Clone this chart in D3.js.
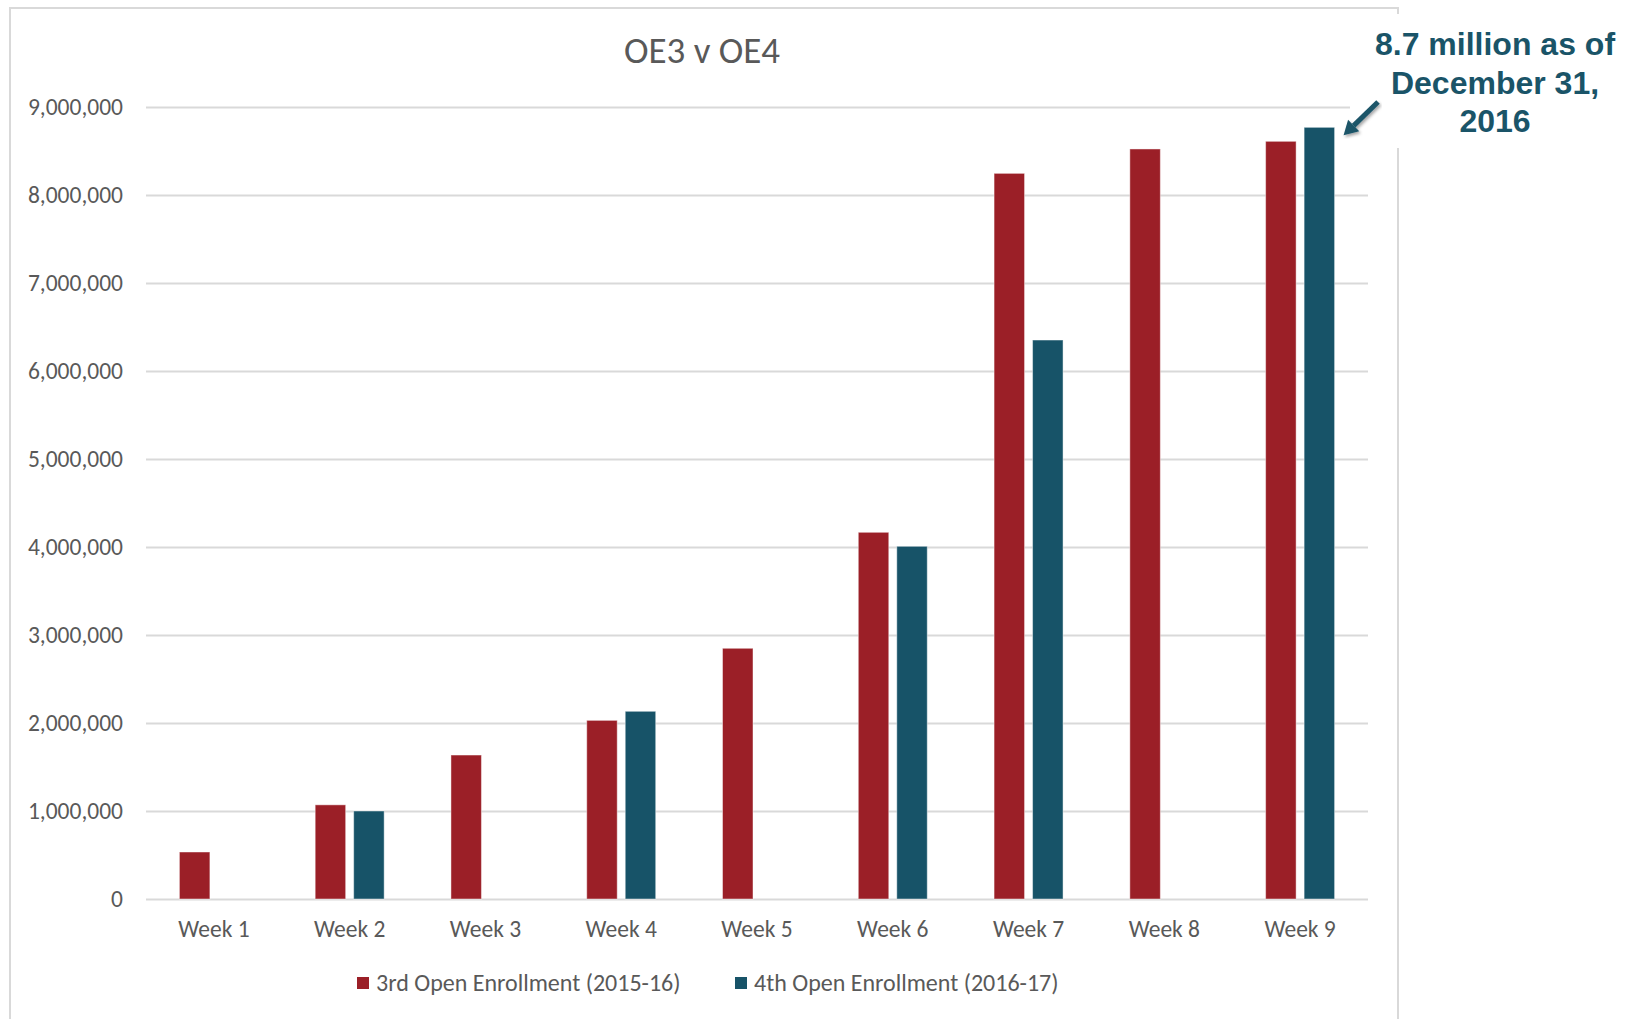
<!doctype html>
<html lang="en">
<head>
<meta charset="utf-8">
<title>OE3 v OE4</title>
<style>
  body { margin: 0; background: #fff; }
  svg text { font-family: Carlito, Calibri, Lato, sans-serif; fill: #595959; }
</style>
</head>
<body>
<div id="chart"></div>
<script src="https://d3js.org/d3.v7.min.js"></script>
<script>
// data
var weeks = ["Week 1", "Week 2", "Week 3", "Week 4", "Week 5", "Week 6", "Week 7", "Week 8", "Week 9"];
var seriesNames = ["3rd Open Enrollment (2015-16)", "4th Open Enrollment (2016-17)"];
var oe3 = [534000, 1070000, 1636000, 2030000, 2849000, 4167000, 8246000, 8523000, 8610000];
var oe4 = [null, 1000000, null, 2133000, null, 4008000, 6352000, null, 8769000];
var yTicks = [0, 1000000, 2000000, 3000000, 4000000, 5000000, 6000000, 7000000, 8000000, 9000000];
var colors = ["#9b1f27", "#175368"];

var width = 1633, height = 1019;
var margin = {top: 107, right: 265, bottom: 120, left: 146};   // plot area 146..1368, 107..899

var svg = d3.select("#chart").append("svg")
    .attr("width", width)
    .attr("height", height);

// chart border
svg.append("rect")
    .attr("x", 10).attr("y", 8)
    .attr("width", 1388).attr("height", 1030)
    .attr("fill", "none")
    .attr("stroke", "#d9d9d9")
    .attr("stroke-width", 2);

var x0 = d3.scaleBand()
    .domain(weeks)
    .range([margin.left, width - margin.right])
    .paddingInner(0.492)
    .paddingOuter(0.246);

var x1 = d3.scaleBand()
    .domain([0, 1])
    .range([0, x0.bandwidth()])
    .paddingInner(0.208);

var y = d3.scaleLinear()
    .domain([0, 9000000])
    .range([height - margin.bottom, margin.top]);

// gridlines
svg.append("g")
    .attr("transform", "translate(" + margin.left + ",0)")
    .call(d3.axisLeft(y).tickValues(yTicks).tickSize(-(width - margin.left - margin.right)).tickFormat(""))
    .call(function(g) { g.select(".domain").remove(); })
    .selectAll("line")
      .attr("stroke", "#d9d9d9")
      .attr("stroke-width", 2);

// y labels
svg.append("g")
    .attr("transform", "translate(" + margin.left + ",0)")
    .call(d3.axisLeft(y).tickValues(yTicks).tickSize(0).tickPadding(23).tickFormat(d3.format(",")))
    .call(function(g) { g.select(".domain").remove(); })
    .selectAll("text")
      .style("font-size", "23.5px")
      .attr("fill", "#595959");

// x labels
svg.append("g")
    .attr("transform", "translate(0," + (height - margin.bottom) + ")")
    .call(d3.axisBottom(x0).tickSize(0).tickPadding(21))
    .call(function(g) { g.select(".domain").remove(); })
    .selectAll("text")
      .style("font-size", "23.5px")
      .attr("fill", "#595959");

// bars
var rows = weeks.map(function(w, i) { return {week: w, vals: [oe3[i], oe4[i]]}; });

svg.append("g")
  .selectAll("g")
  .data(rows)
  .enter()
  .append("g")
    .attr("transform", function(d) { return "translate(" + x0(d.week) + ",0)"; })
  .selectAll("rect")
  .data(function(d) { return d.vals.map(function(v, k) { return {k: k, v: v}; }).filter(function(e) { return e.v != null; }); })
  .enter()
  .append("rect")
    .attr("x", function(d) { return x1(d.k); })
    .attr("y", function(d) { return y(d.v); })
    .attr("width", x1.bandwidth())
    .attr("height", function(d) { return y(0) - y(d.v); })
    .attr("fill", function(d) { return colors[d.k]; })
    .attr("stroke", "rgba(255,255,255,0.45)")
    .attr("stroke-width", 1);

// title
svg.append("text")
    .attr("x", 702)
    .attr("y", 63)
    .attr("text-anchor", "middle")
    .style("font-size", "37px")
    .text("OE3 v OE4");

// legend
var legendX = [357, 735];
var legend = svg.append("g")
  .selectAll("g")
  .data(seriesNames)
  .enter()
  .append("g")
    .attr("transform", function(d, i) { return "translate(" + legendX[i] + ",983)"; });

legend.append("rect")
    .attr("x", 0).attr("y", -6)
    .attr("width", 12).attr("height", 12)
    .attr("fill", function(d, i) { return colors[i]; });

legend.append("text")
    .attr("x", 19)
    .attr("y", 8)
    .style("font-size", "24px")
    .text(function(d) { return d; });

// annotation box covering the corner of the chart
svg.append("rect")
    .attr("x", 1350).attr("y", 14)
    .attr("width", 283).attr("height", 134)
    .attr("fill", "#fff");

var note = ["8.7 million as of", "December 31,", "2016"];
svg.append("g")
  .selectAll("text")
  .data(note)
  .enter()
  .append("text")
    .attr("x", 1495)
    .attr("y", function(d, i) { return 55 + i * 38.5; })
    .attr("text-anchor", "middle")
    .style("font-family", "'Liberation Sans', Arial, sans-serif")
    .style("font-weight", "bold")
    .style("font-size", "32px")
    .style("fill", "#1a5468")
    .text(function(d) { return d; });

// arrow pointing at the week 9 OE4 bar
var tipX = x0("Week 9") + x1(1) + x1.bandwidth() + 9,
    tipY = y(oe4[8]) + 8;
var defs = svg.append("defs");
defs.append("filter").attr("id", "shadow")
  .append("feDropShadow")
    .attr("dx", 1.5).attr("dy", 2).attr("stdDeviation", 1.5)
    .attr("flood-color", "#000").attr("flood-opacity", 0.35);

var ang = Math.atan2(tipY - 102, tipX - 1378);
var headLen = 14, headW = 8;
var bx = tipX - headLen * Math.cos(ang), by = tipY - headLen * Math.sin(ang);
var arrow = svg.append("g").attr("filter", "url(#shadow)");
arrow.append("line")
    .attr("x1", 1378).attr("y1", 102)
    .attr("x2", bx).attr("y2", by)
    .attr("stroke", "#1a5468")
    .attr("stroke-width", 5);
arrow.append("path")
    .attr("d", "M" + tipX + "," + tipY +
      "L" + (bx + headW * Math.sin(ang)) + "," + (by - headW * Math.cos(ang)) +
      "L" + (bx - headW * Math.sin(ang)) + "," + (by + headW * Math.cos(ang)) + "Z")
    .attr("fill", "#1a5468");
</script>
</body>
</html>
